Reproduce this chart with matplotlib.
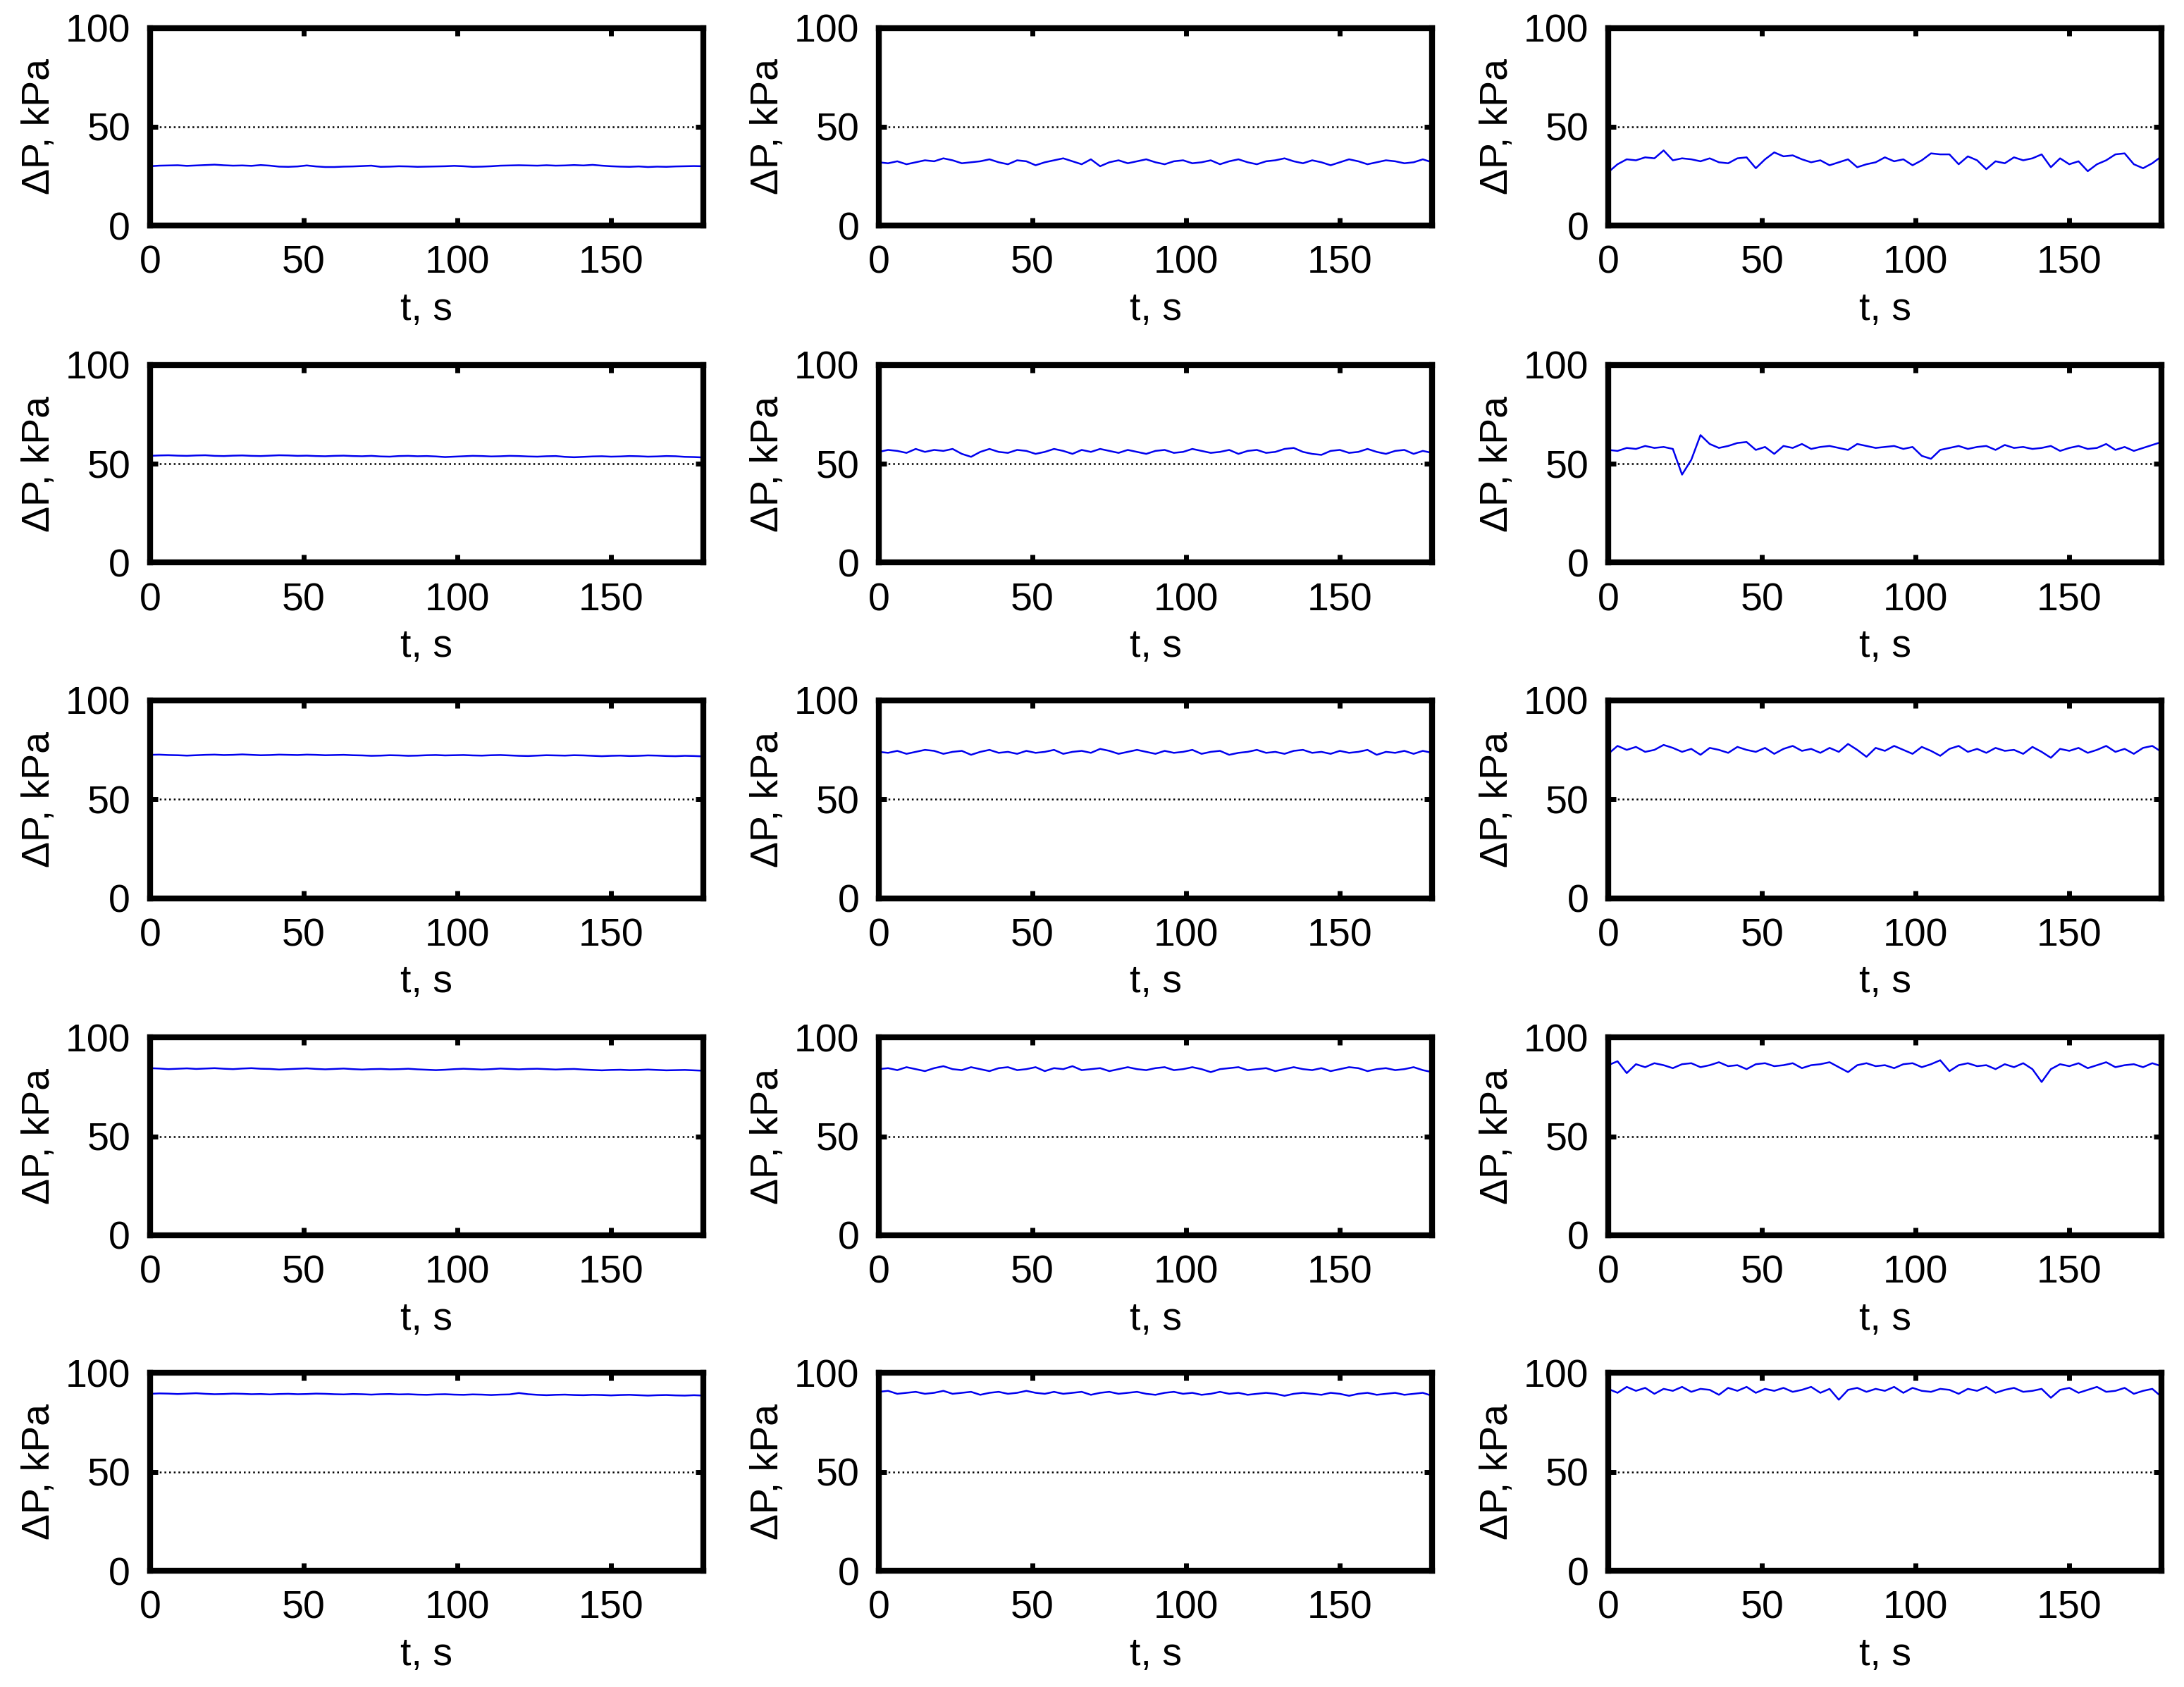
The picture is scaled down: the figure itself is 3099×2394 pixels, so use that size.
import numpy as np
import matplotlib
matplotlib.use("Agg")
import matplotlib.pyplot as plt

plt.rcParams['font.family'] = ['Liberation Sans', 'DejaVu Sans']

p1 = [30.0,30.3,30.4,30.5,30.2,30.4,30.6,30.8,30.5,30.3,30.4,30.2,30.6,30.3,29.8,29.7,29.9,30.4,29.9,29.6,
      29.6,29.8,29.9,30.1,30.3,29.7,29.8,30.0,29.9,29.7,29.8,29.9,30.0,30.2,30.0,29.7,29.8,30.0,30.3,30.4,
      30.5,30.4,30.3,30.5,30.3,30.4,30.6,30.4,30.7,30.3,30.0,29.8,29.7,29.9,29.6,29.8,29.7,29.9,30.0,30.1,30.0]
p2 = [32.0,31.5,32.5,31.0,32.0,33.0,32.5,34.0,33.0,31.5,32.0,32.5,33.5,32.0,31.0,33.0,32.5,30.5,32.0,33.0,
      34.0,32.5,31.0,33.5,30.0,32.0,33.0,31.5,32.5,33.5,32.0,31.0,32.5,33.0,31.5,32.0,33.0,31.0,32.5,33.5,
      32.0,31.0,32.5,33.0,34.0,32.5,31.5,33.0,32.0,30.5,32.0,33.5,32.5,31.0,32.0,33.0,32.5,31.5,32.0,33.5,32.0]
p3 = [27.0,31.0,33.5,33.0,34.5,34.0,38.0,33.0,34.0,33.5,32.5,34.0,32.0,31.5,34.0,34.5,29.0,33.5,37.0,35.0,
      35.5,33.5,32.0,33.0,30.5,32.0,33.5,29.5,31.0,32.0,34.5,32.5,33.5,30.5,33.0,36.5,36.0,36.0,31.0,35.0,
      33.0,28.5,32.5,31.5,34.5,33.0,34.0,36.0,29.5,34.0,31.0,32.5,27.5,31.0,33.0,36.0,36.5,31.0,29.0,31.5,35.0]
p4 = [54.0,54.2,54.3,54.1,54.0,54.2,54.3,54.0,53.9,54.1,54.2,54.0,53.9,54.1,54.3,54.2,54.0,54.1,53.9,53.8,
      54.0,54.1,53.9,53.8,54.0,53.7,53.6,53.9,54.0,53.8,53.9,53.7,53.4,53.6,53.8,54.0,53.9,53.7,53.8,54.0,
      53.9,53.7,53.6,53.8,53.9,53.5,53.3,53.5,53.7,53.8,53.6,53.7,53.9,53.8,53.6,53.7,53.9,53.8,53.5,53.4,53.2]
p5 = [56.0,57.0,56.5,55.5,57.5,56.0,57.0,56.5,57.5,55.0,53.5,56.0,57.5,56.0,55.5,57.0,56.5,55.0,56.0,57.5,
      56.5,55.0,57.0,56.0,57.5,56.5,55.5,57.0,56.0,55.0,56.5,57.0,55.5,56.0,57.5,56.5,55.5,56.0,57.0,55.0,
      56.5,57.0,55.5,56.0,57.5,58.0,56.0,55.0,54.5,56.5,57.0,55.5,56.0,57.5,56.0,55.0,56.5,57.0,55.0,56.5,55.5]
p6 = [57.0,56.5,58.0,57.5,59.0,58.0,58.5,57.5,44.5,52.0,64.5,60.0,58.0,59.0,60.5,61.0,57.0,58.5,55.0,59.0,
      58.0,60.0,57.5,58.5,59.0,58.0,57.0,60.0,59.0,58.0,58.5,59.0,57.5,58.5,54.0,52.5,57.0,58.0,59.0,57.5,
      58.5,59.0,57.0,59.5,58.0,58.5,57.5,58.0,59.0,56.5,58.0,59.0,57.5,58.0,60.0,57.0,58.5,56.5,58.0,59.5,61.0]
p7 = [72.5,72.6,72.4,72.3,72.1,72.3,72.5,72.6,72.4,72.5,72.7,72.5,72.3,72.4,72.6,72.5,72.4,72.6,72.5,72.3,
      72.4,72.5,72.3,72.2,72.0,72.1,72.3,72.2,72.0,72.1,72.3,72.4,72.2,72.3,72.4,72.2,72.1,72.3,72.4,72.2,
      72.0,71.9,72.1,72.3,72.2,72.1,72.3,72.2,72.0,71.8,72.0,72.1,71.9,72.0,72.2,72.1,71.9,71.8,72.0,71.9,71.7]
p8 = [74.0,73.5,74.5,73.0,74.0,75.0,74.5,73.0,74.0,74.5,72.5,74.0,75.0,73.5,74.0,73.0,74.5,73.5,74.0,75.0,
      73.0,74.0,74.5,73.5,75.5,74.5,73.0,74.0,75.0,74.0,73.0,74.5,73.5,74.0,75.0,73.0,74.0,74.5,72.5,73.5,
      74.0,75.0,73.5,74.0,73.0,74.5,75.0,73.5,74.0,73.0,74.5,73.5,74.0,75.0,72.5,74.0,73.5,74.5,73.0,74.5,73.5]
p9 = [73.0,77.0,75.0,76.5,74.0,75.0,77.5,76.0,74.0,75.5,72.5,76.0,75.0,73.5,76.5,75.0,74.0,76.0,73.0,75.5,
      77.0,74.5,75.5,73.5,76.0,74.0,78.0,75.0,71.5,76.0,74.5,77.0,75.0,73.0,76.5,74.5,72.0,75.5,77.0,74.0,
      75.5,73.5,76.0,74.5,75.0,73.0,76.5,74.0,71.0,75.5,74.5,76.0,73.5,75.0,77.0,74.0,75.5,73.0,76.0,77.0,74.0]
p10 = [84.5,84.3,84.0,84.2,84.4,84.1,84.3,84.5,84.2,84.0,84.3,84.5,84.2,84.1,83.8,84.0,84.2,84.4,84.1,83.9,
       84.1,84.3,84.0,83.8,84.0,84.1,83.9,84.0,84.2,83.9,83.7,83.5,83.7,84.0,84.2,84.0,83.8,84.0,84.3,84.1,
       83.9,84.1,84.2,84.0,83.8,84.0,84.1,83.8,83.6,83.4,83.6,83.7,83.5,83.6,83.8,83.6,83.4,83.5,83.6,83.4,83.2]
p11 = [84.0,84.5,83.5,85.0,84.0,83.0,84.5,85.5,84.0,83.5,85.0,84.0,83.0,84.5,85.0,83.5,84.0,85.0,83.0,84.5,
       84.0,85.5,83.5,84.0,84.5,83.0,84.0,85.0,84.0,83.5,84.5,85.0,83.5,84.0,85.0,84.0,82.5,84.0,84.5,85.0,
       83.5,84.0,84.5,83.0,84.0,85.0,84.0,83.5,84.5,83.0,84.0,85.0,84.5,83.0,84.0,84.5,83.5,84.0,85.0,83.5,82.5]
p12 = [86.0,88.0,82.0,86.5,85.0,87.0,86.0,84.5,86.5,87.0,85.0,86.0,87.5,85.5,86.0,84.0,86.5,87.0,85.5,86.0,
       87.0,84.5,86.0,86.5,87.5,85.0,82.5,86.0,87.0,85.5,86.0,84.5,86.5,87.0,85.0,86.5,88.5,83.0,86.0,87.0,
       85.5,86.0,84.0,86.5,85.0,87.0,84.0,77.5,84.0,86.5,85.5,87.0,84.5,86.0,87.5,85.0,86.0,86.5,85.0,87.0,85.5]
p13 = [89.5,89.7,89.6,89.4,89.6,89.8,89.5,89.3,89.4,89.6,89.5,89.3,89.4,89.2,89.4,89.5,89.3,89.4,89.6,89.5,
       89.3,89.2,89.4,89.3,89.1,89.3,89.4,89.2,89.3,89.1,89.0,89.2,89.3,89.1,89.0,89.2,89.1,88.9,89.1,89.2,
       89.9,89.3,89.0,88.8,89.0,89.1,88.9,88.8,89.0,88.9,88.7,88.9,89.0,88.8,88.6,88.8,88.9,88.7,88.6,88.8,88.6]
p14 = [90.5,91.0,89.5,90.0,90.5,89.5,90.0,91.0,89.5,90.0,90.5,89.0,90.0,90.5,89.5,90.0,91.0,90.0,89.5,90.5,
       89.5,90.0,90.5,89.0,90.0,90.5,89.5,90.0,90.5,89.5,89.0,90.0,90.5,89.5,90.0,89.0,89.5,90.5,89.5,90.0,
       89.0,89.5,90.0,89.5,88.5,89.5,90.0,89.5,89.0,90.0,89.5,88.5,89.5,90.0,89.0,89.5,90.0,89.0,89.5,90.0,88.5]
p15 = [92.0,90.0,93.0,91.0,92.5,89.5,92.0,91.0,93.0,90.5,92.0,91.5,89.0,92.5,91.0,93.0,90.0,92.0,91.0,92.5,
       90.5,91.5,93.0,90.0,92.0,86.5,91.5,92.5,90.5,92.0,91.0,93.0,90.0,92.5,91.0,90.5,92.0,91.5,89.5,92.0,
       91.0,93.0,90.0,91.5,92.5,90.5,91.0,92.0,87.5,91.5,92.5,90.0,91.5,93.0,90.5,91.0,92.5,89.5,91.0,92.0,88.0]

series = [p1, p2, p3, p4, p5, p6, p7, p8, p9, p10, p11, p12, p13, p14, p15]
x_ticks = [0, 50, 100, 150]
y_ticks = [0, 50, 100]

fig = plt.figure(figsize=(15.495, 11.97), dpi=200)
lefts = [0.0687, 0.4024, 0.7364]
bottoms = [0.8663, 0.6665, 0.4676, 0.2678, 0.0689]
w, h = 0.2533, 0.1172

for i, vals in enumerate(series):
    r, c = divmod(i, 3)
    ax = fig.add_axes([lefts[c], bottoms[r], w, h])
    t = np.linspace(0, 180, len(vals))
    ax.plot(t, vals, color='#0000ee', lw=0.9)
    ax.set_xlim(0, 180)
    ax.set_ylim(0, 100)
    ax.set_xticks(x_ticks)
    ax.set_yticks(y_ticks)
    ax.yaxis.grid(True, linestyle=':', color='k', lw=0.9)
    ax.xaxis.grid(False)
    for s in ax.spines.values():
        s.set_linewidth(3.0)
    ax.tick_params(direction='in', length=4, width=2.5, top=True, right=True,
                   labelsize=20, pad=10)
    ax.set_xlabel('t, s', fontsize=20, labelpad=5)
    ax.set_ylabel('ΔP, kPa', fontsize=20, labelpad=4)

fig.savefig('out.png', dpi=200)
